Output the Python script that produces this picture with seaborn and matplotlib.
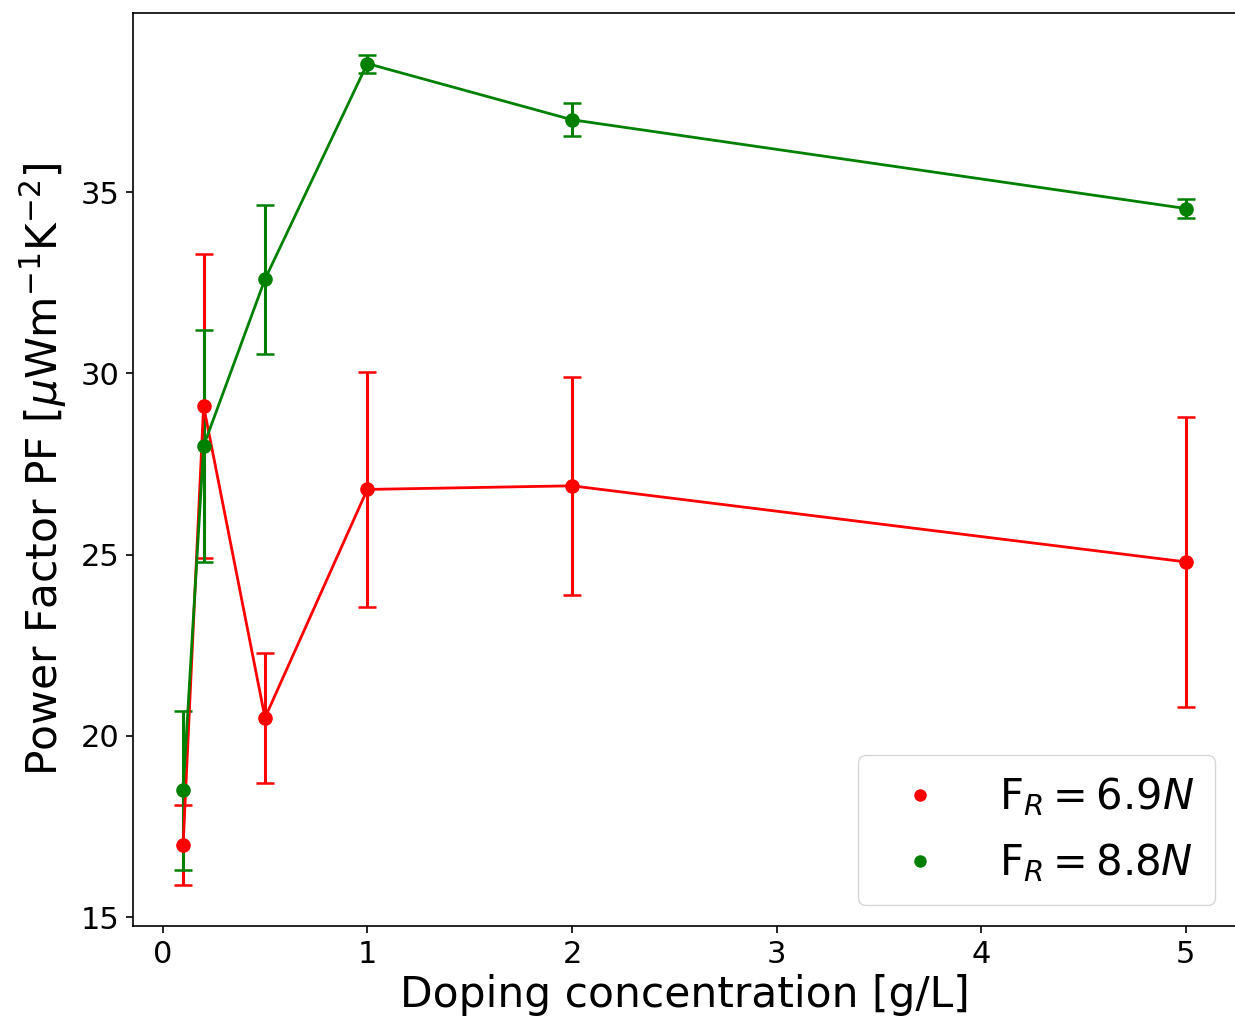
import numpy as np
import pandas as pd
import seaborn as sns
import matplotlib
matplotlib.use("Agg")
import matplotlib.pyplot as plt
from matplotlib.lines import Line2D

# Doping concentration in g/L
concentration = [0.1, 0.2, 0.5, 1, 2, 5]

# Power factor (µW m^-1 K^-2) and its uncertainty for each rolling force
pf_69 = [17.0, 29.1, 20.5, 26.8, 26.9, 24.8]
err_69 = [1.1, 4.2, 1.8, 3.25, 3.0, 4.0]
pf_88 = [18.5, 28.0, 32.6, 38.55, 37.0, 34.55]
err_88 = [2.2, 3.2, 2.05, 0.25, 0.45, 0.25]

labels = [r"F$_R = 6.9N$", r"F$_R = 8.8N$"]
colors = ["red", "green"]

sns.set_style("ticks")
plt.rcParams["font.family"] = ["DejaVu Sans"]
plt.rcParams["axes.edgecolor"] = "black"
plt.rcParams["axes.labelcolor"] = "black"
plt.rcParams["text.color"] = "black"
plt.rcParams["xtick.color"] = "black"
plt.rcParams["ytick.color"] = "black"

fig = plt.figure(figsize=(12.35, 10.23), dpi=100)
ax = fig.add_axes([133 / 1235, 1 - 926 / 1023, 1103 / 1235, 913 / 1023])

df = pd.DataFrame({
    "c": concentration * 2,
    "pf": pf_69 + pf_88,
    "err": err_69 + err_88,
    "series": [labels[0]] * len(concentration) + [labels[1]] * len(concentration),
})

for lab, col in zip(labels, colors):
    sub = df[df["series"] == lab]
    ax.errorbar(sub["c"], sub["pf"], yerr=sub["err"], fmt="none",
                ecolor=col, elinewidth=2.2, capsize=6.5, capthick=1.8, zorder=2)
    sns.lineplot(data=sub, x="c", y="pf", color=col, marker="o",
                 markersize=10.5, markeredgewidth=0, linewidth=2.0,
                 ax=ax, zorder=3, legend=False, estimator=None, sort=False)

ax.set_xticks([0, 1, 2, 3, 4, 5])
ax.set_yticks([15, 20, 25, 30, 35])
ax.tick_params(labelsize=22, length=5, width=1.2, pad=5)
ax.set_xlabel("Doping concentration [g/L]", fontsize=30.5, labelpad=4)
ax.set_ylabel(r"Power Factor PF [$\mu$Wm$^{-1}$K$^{-2}$]", fontsize=30.5, labelpad=8)
for s in ax.spines.values():
    s.set_linewidth(1.2)

handles = [Line2D([], [], color=c, marker="o", linestyle="", markersize=9,
                  markeredgewidth=0) for c in colors]
ax.legend(handles, labels, loc="lower right", fontsize=30,
          handletextpad=0.9, borderpad=0.5, labelspacing=0.55,
          borderaxespad=0.5, frameon=True, fancybox=True)

fig.savefig("out.png", dpi=100)
